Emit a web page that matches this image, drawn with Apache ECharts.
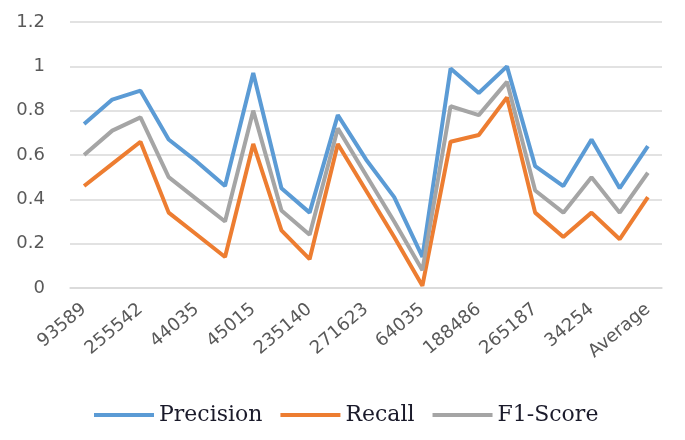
<!DOCTYPE html>
<html>
<head>
<meta charset="utf-8">
<script src="https://cdn.jsdelivr.net/npm/echarts@6/dist/echarts.min.js"></script>
<style>
  html, body { margin: 0; padding: 0; background: #fff; }
  #chart { width: 685px; height: 440px; }
</style>
</head>
<body>
<div id="chart"></div>
<script>
// only every other category is labelled in the source figure
const categories = [
  "93589", "", "255542", "", "44035", "", "45015", "", "235140", "", "271623",
  "", "64035", "", "188486", "", "265187", "", "34254", "", "Average"
]
const precision = [0.74, 0.85, 0.89, 0.67, 0.57, 0.46, 0.97, 0.45, 0.34, 0.78, 0.58, 0.41, 0.14, 0.99, 0.88, 1.0, 0.55, 0.46, 0.67, 0.45, 0.64]
const recall = [0.46, 0.56, 0.66, 0.34, 0.24, 0.14, 0.65, 0.26, 0.13, 0.65, 0.44, 0.23, 0.01, 0.66, 0.69, 0.86, 0.34, 0.23, 0.34, 0.22, 0.41]
const f1Score = [0.60, 0.71, 0.77, 0.50, 0.40, 0.30, 0.80, 0.35, 0.24, 0.72, 0.51, 0.30, 0.08, 0.82, 0.78, 0.93, 0.44, 0.34, 0.50, 0.34, 0.52]

const colors = ["#5b9bd5", "#ed7d31", "#a5a5a5"]

const chart = echarts.init(document.getElementById("chart"), null, { renderer: "canvas" })

function lineSeries(name, data, color) {
  return {
    name: name,
    type: "line",
    data: data,
    symbol: "none",
    smooth: false,
    lineStyle: { color: color, width: 4 },
    itemStyle: { color: color }
  }
}

chart.setOption({
  animation: false,
  backgroundColor: "#fff",
  grid: { left: 70, right: 23, top: 22, bottom: 152 },
  legend: {
    left: 89,
    top: 399,
    icon: "rect",
    itemWidth: 60,
    itemHeight: 4,
    itemGap: 18,
    textStyle: {
      fontFamily: "DejaVu Serif",
      fontSize: 22,
      color: "#1a1a2a"
    },
    data: ["Precision", "Recall", "F1-Score"]
  },
  xAxis: {
    type: "category",
    data: categories,
    boundaryGap: true,
    axisLine: { show: true, lineStyle: { color: "#d9d9d9", width: 1.5 } },
    axisTick: { show: false },
    axisLabel: {
      interval: 0,
      rotate: 40,
      margin: 19,
      fontFamily: "DejaVu Sans",
      fontSize: 18,
      color: "#595959"
    }
  },
  yAxis: {
    type: "value",
    min: 0,
    max: 1.2,
    interval: 0.2,
    axisLine: { show: false },
    axisTick: { show: false },
    splitLine: { lineStyle: { color: "#d9d9d9", width: 1.5 } },
    axisLabel: {
      margin: 25,
      fontFamily: "DejaVu Sans",
      fontSize: 18,
      color: "#595959",
      formatter: (v) => String(Math.round(v * 10) / 10)
    }
  },
  series: [
    lineSeries("Precision", precision, colors[0]),
    lineSeries("Recall", recall, colors[1]),
    lineSeries("F1-Score", f1Score, colors[2])
  ]
})
</script>
</body>
</html>
